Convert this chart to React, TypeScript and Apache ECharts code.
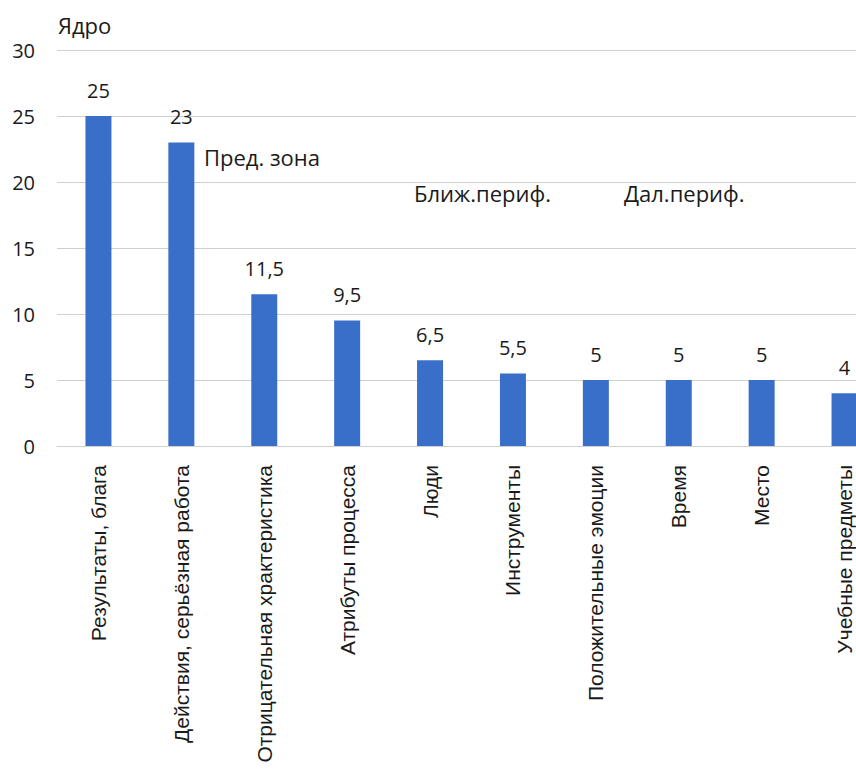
import React, { useEffect, useRef } from "react";
import * as echarts from "echarts";

const categories = [
  "Результаты, блага",
  "Действия, серьёзная работа",
  "Отрицательная храктеристика",
  "Атрибуты процесса",
  "Люди",
  "Инструменты",
  "Положительные эмоции",
  "Время",
  "Место",
  "Учебные предметы",
];
const values = [25, 23, 11.5, 9.5, 6.5, 5.5, 5, 5, 5, 4];
const yTicks = { min: 0, max: 30, interval: 5 };
const zoneNotes = [
  { text: "Ядро", x: 58, y: 25 },
  { text: "Пред. зона", x: 204, y: 157 },
  { text: "Ближ.периф.", x: 414, y: 193 },
  { text: "Дал.периф.", x: 624, y: 193 },
];

export default function App() {
  const ref = useRef<HTMLDivElement>(null);
  useEffect(() => {
    if (!ref.current) return;
    const chart = echarts.init(ref.current, undefined, { renderer: "svg" });
    const font = "'Open Sans', 'Noto Sans', sans-serif";
    const labelFont = "'Liberation Sans', Arial, sans-serif";
    chart.setOption({
      animation: false,
      textStyle: { fontFamily: font },
      grid: { left: 57, right: 0, top: 50, bottom: 328, containLabel: false },
      xAxis: {
        type: "category",
        data: categories,
        axisLine: { show: true, lineStyle: { color: "#d0d0d0" } },
        axisTick: { show: false },
        axisLabel: {
          rotate: 90,
          interval: 0,
          margin: 19,
          fontSize: 21,
          color: "#1a1a1a",
          fontFamily: labelFont,
        },
      },
      yAxis: {
        type: "value",
        min: yTicks.min,
        max: yTicks.max,
        interval: yTicks.interval,
        axisLine: { show: false },
        axisTick: { show: false },
        splitLine: { lineStyle: { color: "#d0d0d0" } },
        axisLabel: { fontSize: 20, color: "#1a1a1a", margin: 22, fontFamily: font },
      },
      series: [
        {
          type: "bar",
          data: values,
          barWidth: 26,
          itemStyle: { color: "#3a6fc9" },
          label: {
            show: true,
            position: "top",
            distance: 16,
            fontSize: 20,
            color: "#1a1a1a",
            fontFamily: font,
            formatter: (p: any) => String(p.value).replace(".", ","),
          },
        },
      ],
      graphic: zoneNotes.map((n) => ({
        type: "text",
        x: n.x,
        y: n.y,
        style: {
          text: n.text,
          fontSize: 22,
          fill: "#1a1a1a",
          fontFamily: font,
          verticalAlign: "middle",
        },
      })),
    });
    return () => chart.dispose();
  }, []);
  return (
    <div
      style={{
        position: "absolute",
        left: 0,
        top: 0,
        width: 856,
        height: 774,
        overflow: "hidden",
      }}
    >
      <div ref={ref} style={{ width: 886, height: 774 }} />
    </div>
  );
}
